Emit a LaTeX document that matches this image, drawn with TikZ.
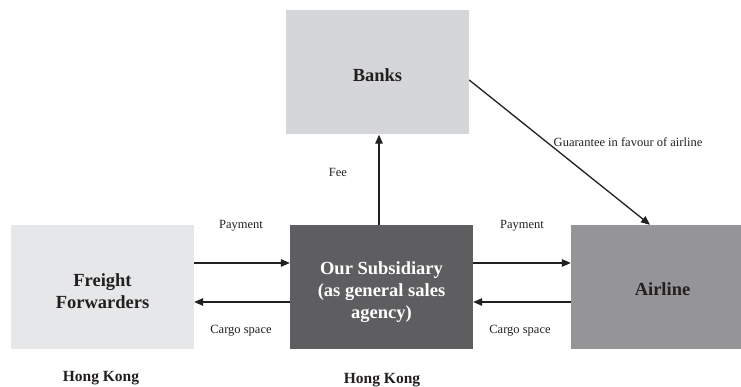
\documentclass[tikz,border=0pt]{standalone}
\usepackage{fontspec}
\setmainfont{Liberation Serif}
\usetikzlibrary{arrows.meta}
\definecolor{inkc}{HTML}{231F20}
\definecolor{bankfill}{HTML}{D5D6D8}
\definecolor{fwdfill}{HTML}{E6E7E8}
\definecolor{subfill}{HTML}{5E5E60}
\definecolor{airfill}{HTML}{959598}
\tikzset{
  party/.style={draw=none, minimum width=183pt, minimum height=124pt,
    inner sep=0pt},
  partytext/.style={align=center, text=inkc, inner sep=0pt, yshift=-4pt,
    font=\fontsize{18.5}{21.8}\selectfont\bfseries},
  flow/.style={draw=inkc, line width=1.3pt,
    -{Triangle[length=9pt,width=7.5pt]}},
  lbl/.style={text=inkc, font=\fontsize{12.5}{14}\selectfont, inner sep=0pt},
  place/.style={text=inkc, font=\fontsize{15.5}{18}\selectfont\bfseries, inner sep=0pt}
}
\begin{document}
\begin{tikzpicture}[x=1pt,y=-1pt]
  \useasboundingbox (0,0) rectangle (741,387);
  \fill[white] (0,0) rectangle (741,387);
  \begin{scope}
    \clip (0,0) rectangle (741,387);
    % the four parties
    \node[party, fill=bankfill] (banks) at (377.5,72.5) {};
    \node[party, fill=fwdfill] (ff) at (102.5,287) {};
    \node[party, fill=subfill] (sub) at (381.5,287) {};
    \node[party, fill=airfill] (air) at (662.5,287) {};
  \end{scope}
  \node[partytext, yshift=1pt] (banksT) at (banks) {Banks};
  \node[partytext] (ffT) at (ff) {Freight\\Forwarders};
  \node[partytext, text=white, yshift=-1pt] (subT) at (sub)
    {Our Subsidiary\\(as general sales\\agency)};
  \node[partytext, yshift=1.5pt] (airT) at (air) {Airline};

  % flows between forwarders and the subsidiary
  \draw[flow] ([yshift=24pt]ff.east) -- ([yshift=24pt]sub.west);
  \draw[flow] ([yshift=-15pt]sub.west) -- ([yshift=-15pt]ff.east);
  % flows between the subsidiary and the airline
  \draw[flow] ([yshift=24pt]sub.east) -- ([yshift=24pt]air.west);
  \draw[flow] ([yshift=-15pt]air.west) -- ([yshift=-15pt]sub.east);
  % fee to the banks
  \draw[flow] ([xshift=-2.5pt]sub.north) -- ([xshift=1.5pt]banks.south);
  % guarantee from the banks to the airline
  \draw[flow] ([yshift=-7.5pt]banks.east) -- ([xshift=-12.5pt]air.north);

  % flow labels
  \node[lbl] (pay1) at (241,226) {Payment};
  \node[lbl] (cargo1) at (241,331) {Cargo space};
  \node[lbl] (pay2) at (522,226) {Payment};
  \node[lbl] (cargo2) at (520,331) {Cargo space};
  \node[lbl] (fee) at (338,172) {Fee};
  \node[lbl] (guar) at (628,142) {Guarantee in favour of airline};

  % locations
  \node[place] (hk1) at (101,378) {Hong Kong};
  \node[place] (hk2) at (382,380) {Hong Kong};
\end{tikzpicture}
\end{document}
